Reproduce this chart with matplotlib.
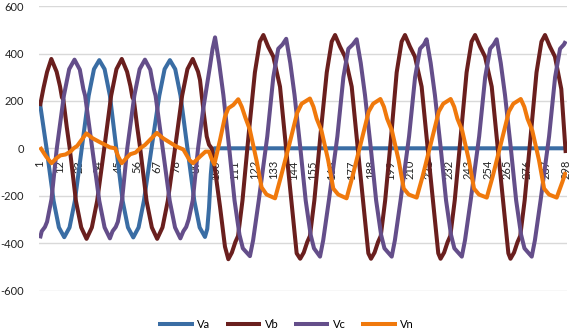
import matplotlib
matplotlib.use("Agg")
import matplotlib.pyplot as plt

plt.rcParams['font.family'] = ['Lato', 'DejaVu Sans']

# ---- data (sample index -> voltage) ----
va_x = [1, 4.7, 8.7, 11.7, 14.7, 17.7, 20.7, 24.6, 28.5, 31.5, 34.5, 37.5, 40.5, 44.1,
        47.7, 50.7, 53.7, 56.7, 59.7, 64.0, 68.4, 71.4, 74.4, 77.4, 80.4, 84.3, 88.2,
        91.2, 94.2, 95.5, 96.5, 97.5, 98.5, 99.5, 298]
va_y = [190, 0, -222, -334, -375, -334, -222, 0, 222, 334, 372, 334, 222, 0,
        -222, -334, -376, -334, -222, 0, 222, 334, 372, 334, 222, 0, -222,
        -334, -374, -340, -250, -110, -25, 0, 0]

vb_x = [1, 3, 5, 7.4, 10.4, 12.3, 13.4, 14.2, 16.1, 17.8, 21.3, 24.3, 27.3, 30.3, 33.3,
        37.3, 41.2, 44.2, 47.2, 50.2, 52.1, 53.2, 54.0, 55.9, 57.6, 61.2, 64.2, 67.2,
        70.2, 73.2, 77.3, 81.3, 84.3, 87.3, 90.3, 91.4, 92.5, 93.5, 95.2, 96.5, 98.0,
        99.9, 102.7, 105.5, 107.4,
        109.4, 111.4, 112.9, 115.4, 118.9, 122.4, 125.2, 127.2,
        129.9, 132.8, 136.6, 140.3, 144.1, 146.0, 148.0,
        150.0, 152.0, 153.5, 156.0, 159.5, 163.0, 165.8, 167.7,
        170.5, 173.3, 177.1, 180.8, 184.6, 186.5, 188.0,
        190.0, 192.0, 193.5, 196.0, 199.5, 202.5, 205.3, 207.2,
        210.0, 212.8, 216.6, 220.3, 224.1, 226.0, 227.3,
        229.3, 231.3, 232.8, 235.3, 238.8, 242.0, 244.8, 246.8,
        249.6, 252.4, 256.2, 259.9, 263.7, 265.6, 266.8,
        268.8, 270.8, 272.3, 274.8, 278.3, 281.5, 284.3, 286.3,
        289.1, 291.9, 295.5, 298]
vb_y = [178, 255, 322, 377, 323, 262, 215, 205, 91, 0, -222, -334, -382, -334, -222,
        0, 222, 334, 377, 323, 262, 215, 205, 91, 0, -222, -334, -382,
        -334, -222, 0, 222, 334, 377, 323, 288, 215, 150, 50, 15, 0,
        -92, -246, -415, -468,
        -440, -395, -370, -220, 60, 320, 450, 478,
        429, 387, 260, -21, -302, -443, -466,
        -440, -395, -370, -220, 60, 320, 450, 478,
        429, 387, 260, -21, -302, -443, -466,
        -440, -395, -370, -220, 60, 320, 450, 478,
        429, 387, 260, -21, -302, -443, -466,
        -440, -395, -370, -220, 60, 320, 450, 478,
        429, 387, 260, -21, -302, -443, -466,
        -440, -395, -370, -220, 60, 320, 450, 478,
        429, 387, 250, -20]

vc_x = [1, 2, 3.8, 5, 7.5, 10.5, 14.5, 17.5, 20.5, 23.5, 25.5, 26.5, 30.5, 34.5, 37.5,
        40.5, 42, 43.8, 45, 47.4, 50.3, 54.3, 57.3, 60.3, 63.3, 65.3, 66.3, 70.3,
        74.3, 77.3, 80.3, 82, 83.6, 85, 87.3, 90.3, 93.3, 97.0, 98.5, 99.9,
        102.2, 104.6, 107.9, 110.9, 113.7, 115.6, 119.6,
        121.4, 124.6, 129.4, 132.8, 135.6, 138.0, 140.1,
        142.4, 144.8, 148.1, 151.1, 153.9, 155.8, 159.2,
        161.0, 164.2, 169.0, 172.4, 175.2, 177.7, 179.9,
        182.2, 184.6, 187.9, 190.9, 193.7, 195.6, 199.7,
        201.5, 204.7, 209.5, 212.9, 215.7, 217.9, 219.4,
        221.7, 224.1, 227.4, 230.4, 233.2, 235.1, 239.3,
        241.1, 244.3, 249.1, 252.5, 255.3, 257.3, 259.0,
        261.3, 263.7, 267.0, 270.0, 272.8, 274.7, 278.8,
        280.6, 283.8, 288.6, 292.0, 294.8, 297.0, 298]
vc_y = [-380, -350, -332, -310, -215, 0, 222, 334, 374, 332, 250, 222, 0, -222, -334,
        -380, -350, -332, -310, -215, 0, 222, 334, 374, 332, 250, 222, 0,
        -222, -334, -380, -350, -332, -300, -220, 0, 170, 345, 420, 468,
        360, 225, 0, -220, -365, -422, -455,
        -388, -220, 50, 300, 420, 438, 462,
        360, 225, 0, -220, -365, -422, -457,
        -388, -220, 50, 300, 420, 438, 460,
        360, 225, 0, -220, -365, -422, -457,
        -388, -220, 50, 300, 420, 438, 460,
        360, 225, 0, -220, -365, -422, -457,
        -388, -220, 50, 300, 420, 438, 460,
        360, 225, 0, -220, -365, -422, -457,
        -388, -220, 50, 300, 420, 438, 452]

vn_x = [1, 4.5, 7.5, 10, 12.5, 15.5, 18.5, 20, 22, 27.2, 30.8, 34.8, 38, 40.5, 43.5,
        45.2, 47.2, 49.7, 52, 55, 57.5, 60.3, 67, 70.6, 74.5, 78.2, 82, 85.5, 87.5,
        91.4, 94.5, 96.5, 98, 99.5, 102.7, 105.5, 107.4, 110.2, 113,
        115, 117, 119.5, 123.3, 126.2, 129, 133.8,
        137.1, 141.8, 146.3, 148.8, 153.5,
        155.5, 157.3, 160.0, 163.8, 166.7, 169.5, 174.2,
        177.5, 182.2, 186.7, 189.2, 193.3,
        195.3, 197.1, 199.8, 203.6, 206.5, 209.3, 213.8,
        217.1, 221.8, 226.3, 228.8, 233.0,
        235.0, 236.8, 239.5, 243.3, 246.2, 249.0, 253.4,
        256.7, 261.4, 265.9, 268.4, 272.6,
        274.6, 276.4, 279.1, 282.9, 285.8, 288.6, 292.9,
        296.2, 298]
vn_y = [5, -35, -63, -44, -30, -26, -12, 0, 10, 63, 42, 26, 14, 4, 0,
        -35, -63, -42, -25, -18, 0, 14, 65, 42, 24, 7, -5, -50, -63,
        -35, -14, -14, -45, -68, 35, 133, 169, 183, 207,
        175, 130, 80, -50, -165, -195, -211,
        -120, 15, 150, 188, 210,
        175, 125, 75, -50, -170, -195, -211,
        -120, 20, 155, 188, 208,
        175, 125, 75, -50, -170, -195, -208,
        -120, 20, 155, 188, 208,
        175, 125, 75, -50, -170, -195, -208,
        -120, 20, 155, 188, 208,
        175, 125, 75, -50, -170, -195, -208,
        -140, -100]

series_names = ["Va", "Vb", "Vc", "Vn"]
series_colors = ["#3A6DA4", "#6A1F1E", "#644E8A", "#F0790C"]

x_tick_labels = ["1", "12", "23", "34", "45", "56", "67", "78", "89", "100", "111",
                 "122", "133", "144", "155", "166", "177", "188", "199", "210", "221",
                 "232", "243", "254", "265", "276", "287", "298"]
y_ticks = [-600, -400, -200, 0, 200, 400, 600]

# ---- figure ----
W, H = 572, 332
fig = plt.figure(figsize=(W / 100, H / 100), dpi=100)
left, right, top, bottom = 39.1, 566.6, 6.1, 290.5
ax = fig.add_axes([left / W, 1 - bottom / H, (right - left) / W, (bottom - top) / H])

xs = [va_x, vb_x, vc_x, vn_x]
ys = [va_y, vb_y, vc_y, vn_y]
for name, c, x, y in zip(series_names, series_colors, xs, ys):
    ax.plot(x, y, color=c, lw=2.9, label=name, solid_joinstyle='round',
            solid_capstyle='butt', zorder=3)

ax.set_xlim(0.5, 298.5)
ax.set_ylim(-600, 600)
ax.set_yticks(y_ticks)
ax.set_yticklabels([str(v) for v in y_ticks])
ax.tick_params(axis='y', length=0, pad=11, labelsize=8, labelcolor='#222222')
ax.set_xticks([])
ax.grid(axis='y', color='#D9D9D9', lw=1.0, zorder=0)
ax.set_axisbelow(True)
for s in ax.spines.values():
    s.set_visible(False)

for lbl in x_tick_labels:
    ax.annotate(lbl, (int(lbl), 0), xytext=(0, -8.5), textcoords='offset points',
                rotation=90, ha='center', va='top', fontsize=8, color='#222222',
                zorder=1, annotation_clip=False)

leg = fig.legend(loc='center', bbox_to_anchor=(0.5, 1 - 324 / H), ncol=4,
                 frameon=False, fontsize=8, handlelength=3.2, handletextpad=0.3,
                 columnspacing=1.4)
for line in leg.get_lines():
    line.set_linewidth(2.9)

fig.savefig("out.png", dpi=100)
